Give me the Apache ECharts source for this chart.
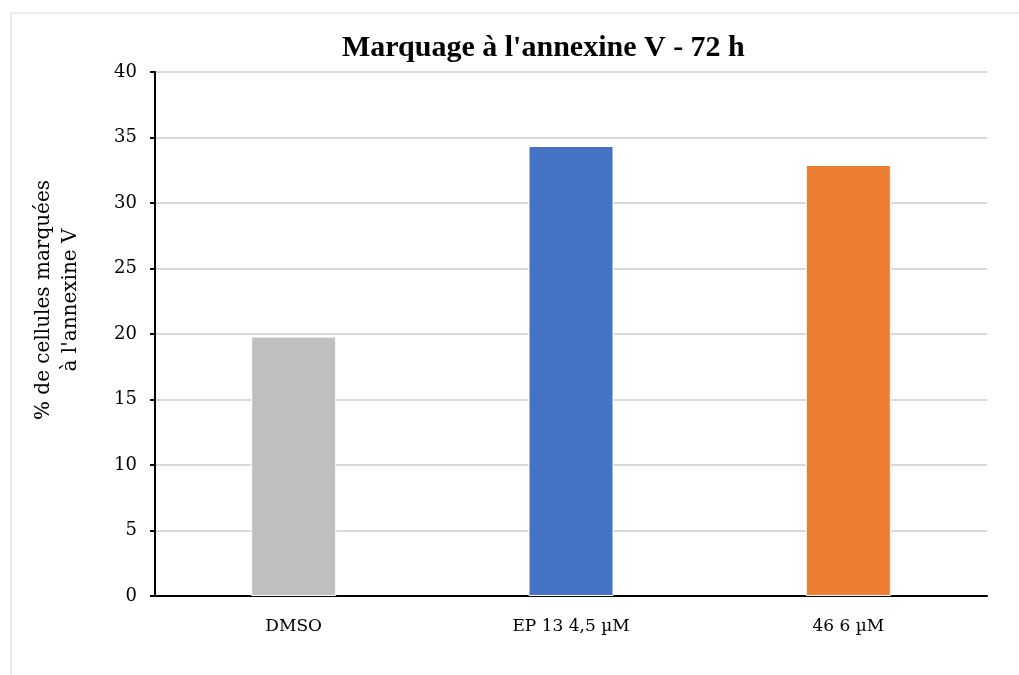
<!DOCTYPE html>
<html><head><meta charset="utf-8">
<script src="https://cdn.jsdelivr.net/npm/echarts@6/dist/echarts.min.js"></script>
<style>html,body{margin:0;padding:0;background:#fff}#c{width:1019px;height:675px}</style>
</head><body><div id="c"></div>
<script>
const categories = ['DMSO', 'EP 13 4,5 µM', '46 6 µM'];
const values = [19.8, 34.35, 32.9];
const barColors = ['#bfbfbf', '#4472c4', '#ed7d31'];
const yTicks = { min: 0, max: 40, interval: 5 };
const titleText = "Marquage à l'annexine V - 72 h";
const yName = "% de cellules marquées\nà l'annexine V";

const serif = "'DejaVu Serif', 'Liberation Serif', serif";
const titleFont = "'Liberation Serif', serif";
const chart = echarts.init(document.getElementById('c'), null, { renderer: 'canvas' });
chart.setOption({
  backgroundColor: '#fff',
  animation: false,
  graphic: [{
    type: 'rect', left: 8.5, top: 10.5, silent: true,
    shape: { width: 1100, height: 800 },
    style: { fill: 'none', stroke: '#d9d9d9', lineWidth: 1 }
  }],
  title: {
    text: titleText, left: 337, top: 28,
    textStyle: { fontFamily: titleFont, fontWeight: 'bold', fontSize: 30, color: '#000' }
  },
  grid: { left: 155, right: 32, top: 72, bottom: 79, containLabel: false, outerBoundsMode: 'none' },
  xAxis: {
    type: 'category', data: categories,
    axisLine: { lineStyle: { color: '#000', width: 2 } },
    axisTick: { show: false },
    axisLabel: { fontFamily: serif, fontSize: 17, color: '#000', margin: 22 }
  },
  yAxis: {
    type: 'value', min: yTicks.min, max: yTicks.max, interval: yTicks.interval,
    name: yName, nameLocation: 'middle', nameRotate: 90, nameGap: 71, nameMoveOverlap: false,
    nameTextStyle: { fontFamily: serif, fontSize: 20, color: '#000', lineHeight: 27, padding: [0, 0, 0, 68] },
    axisLine: { show: true, lineStyle: { color: '#000', width: 2 } },
    axisTick: { show: true, length: 5, lineStyle: { color: '#000', width: 2 } },
    axisLabel: { fontFamily: serif, fontSize: 18, color: '#000', margin: 18 },
    splitLine: { lineStyle: { color: '#d9d9d9', width: 2 } }
  },
  series: [{
    type: 'bar', barWidth: 85,
    data: values.map((v, i) => ({ value: v, itemStyle: { color: barColors[i] } })),
    itemStyle: { borderColor: '#fff', borderWidth: 1 }
  }]
});
</script></body></html>
